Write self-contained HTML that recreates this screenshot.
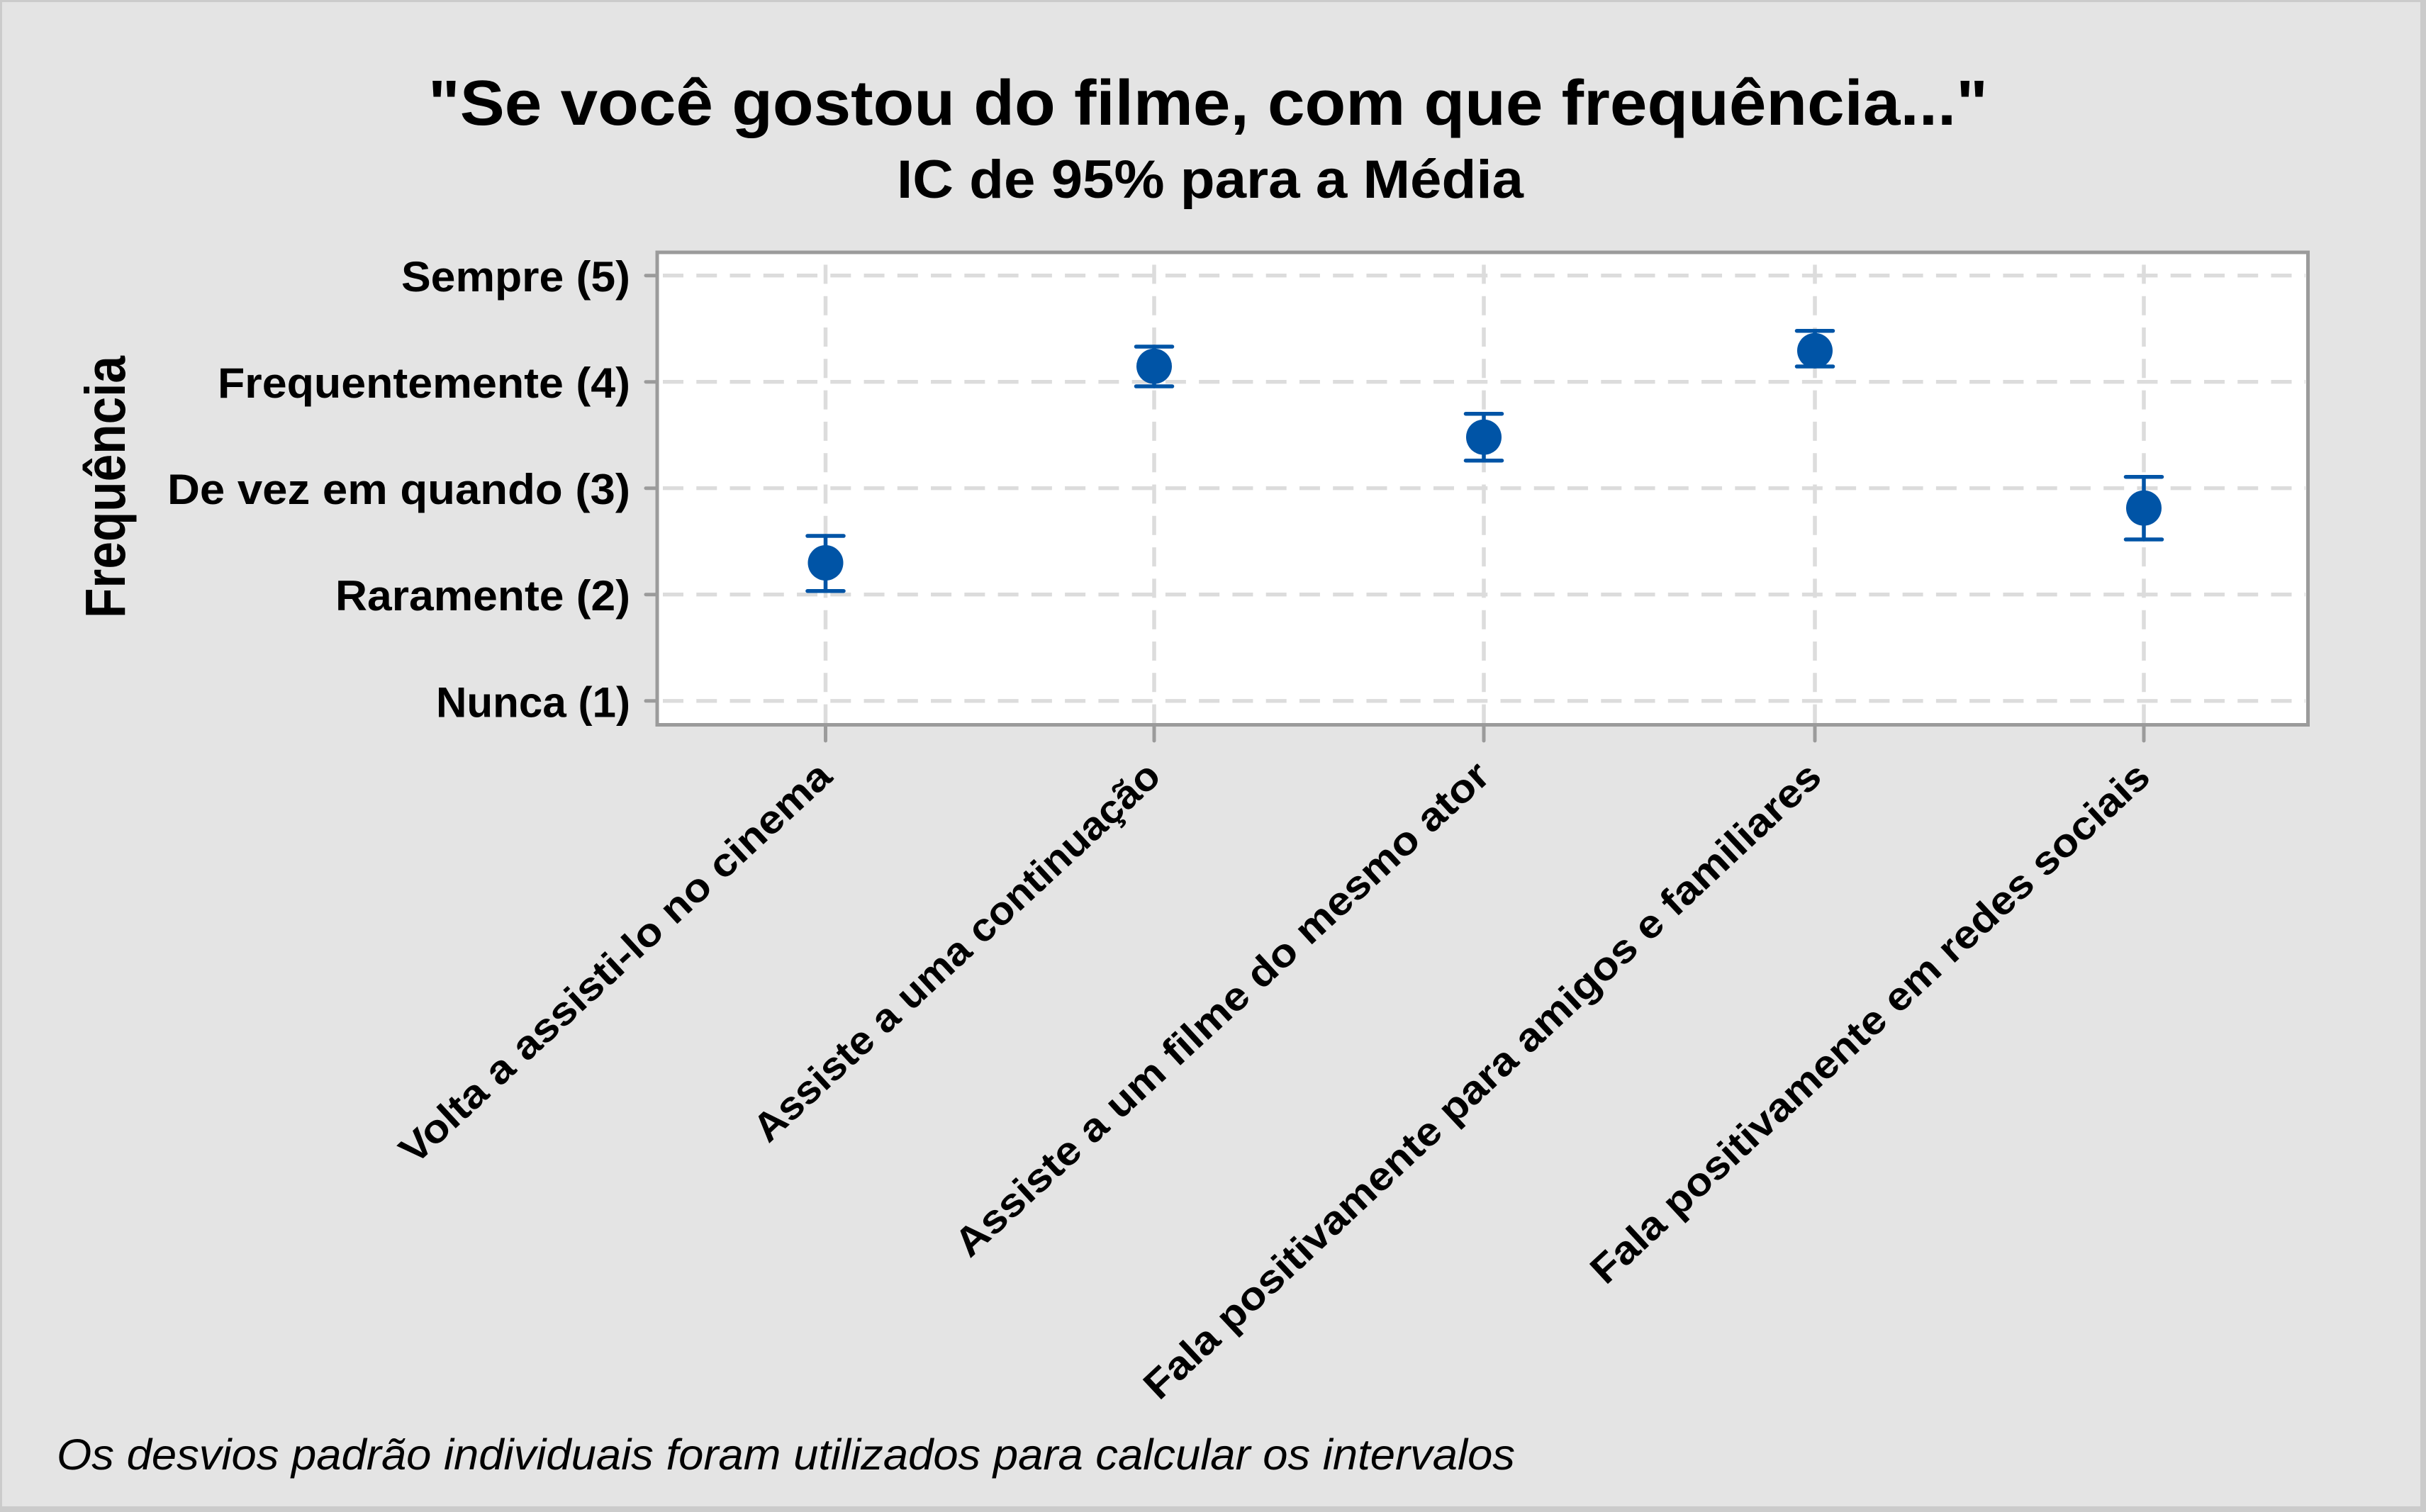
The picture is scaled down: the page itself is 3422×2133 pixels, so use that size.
<!DOCTYPE html>
<html>
<head>
<meta charset="utf-8">
<style>
html,body{margin:0;padding:0;background:#e4e4e4;}
svg{display:block;}
text{font-family:"Liberation Sans", "DejaVu Sans", sans-serif;fill:#000;}
</style>
</head>
<body>
<svg xmlns="http://www.w3.org/2000/svg" width="3422" height="2133" viewBox="0 0 3422 2133">
  <!-- outer frame -->
  <rect x="0" y="0" width="3422" height="2133" fill="#cbcbcb"/>
  <rect x="3" y="3" width="3411" height="2122" fill="#e4e4e4"/>

  <!-- plot area -->
  <rect x="927" y="356" width="2328.5" height="666.5" fill="#ffffff"/>

  <!-- horizontal gridlines -->
  <g stroke="#dcdcdc" stroke-width="5.3" stroke-dasharray="29 18.26" fill="none">
    <line x1="935" y1="388.7" x2="3252" y2="388.7"/>
    <line x1="935" y1="538.7" x2="3252" y2="538.7"/>
    <line x1="935" y1="688.7" x2="3252" y2="688.7"/>
    <line x1="935" y1="838.7" x2="3252" y2="838.7"/>
    <line x1="935" y1="988.8" x2="3252" y2="988.8"/>
  </g>
  <!-- vertical gridlines -->
  <g stroke="#dcdcdc" stroke-width="5.5" stroke-dasharray="27 17.3" fill="none">
    <line x1="1164.5" y1="373.4" x2="1164.5" y2="1020"/>
    <line x1="1628" y1="373.4" x2="1628" y2="1020"/>
    <line x1="2093" y1="373.4" x2="2093" y2="1020"/>
    <line x1="2560" y1="373.4" x2="2560" y2="1020"/>
    <line x1="3024" y1="373.4" x2="3024" y2="1020"/>
  </g>

  <!-- plot border -->
  <rect x="927" y="356" width="2328.5" height="666.5" fill="none" stroke="#9b9b9b" stroke-width="5"/>

  <!-- ticks -->
  <g stroke="#9b9b9b" stroke-width="5" stroke-linecap="round">
    <line x1="911" y1="388.7" x2="927" y2="388.7"/>
    <line x1="911" y1="538.7" x2="927" y2="538.7"/>
    <line x1="911" y1="688.7" x2="927" y2="688.7"/>
    <line x1="911" y1="838.7" x2="927" y2="838.7"/>
    <line x1="911" y1="988.8" x2="927" y2="988.8"/>
    <line x1="1164.5" y1="1023" x2="1164.5" y2="1045"/>
    <line x1="1628" y1="1023" x2="1628" y2="1045"/>
    <line x1="2093" y1="1023" x2="2093" y2="1045"/>
    <line x1="2560" y1="1023" x2="2560" y2="1045"/>
    <line x1="3024" y1="1023" x2="3024" y2="1045"/>
  </g>

  <!-- error bars -->
  <g stroke="#0054a6" stroke-width="5.5" stroke-linecap="round" fill="none">
    <line x1="1164.5" y1="756" x2="1164.5" y2="833.7"/>
    <line x1="1139" y1="756" x2="1190" y2="756"/>
    <line x1="1139" y1="833.7" x2="1190" y2="833.7"/>

    <line x1="1628" y1="489" x2="1628" y2="545"/>
    <line x1="1602.5" y1="489" x2="1653.5" y2="489"/>
    <line x1="1602.5" y1="545" x2="1653.5" y2="545"/>

    <line x1="2093" y1="583.7" x2="2093" y2="649.7"/>
    <line x1="2067.5" y1="583.7" x2="2118.5" y2="583.7"/>
    <line x1="2067.5" y1="649.7" x2="2118.5" y2="649.7"/>

    <line x1="2560" y1="466.7" x2="2560" y2="517"/>
    <line x1="2534.5" y1="466.7" x2="2585.5" y2="466.7"/>
    <line x1="2534.5" y1="517" x2="2585.5" y2="517"/>

    <line x1="3024" y1="672.7" x2="3024" y2="761"/>
    <line x1="2998.5" y1="672.7" x2="3049.5" y2="672.7"/>
    <line x1="2998.5" y1="761" x2="3049.5" y2="761"/>
  </g>
  <g fill="#0054a6">
    <circle cx="1164.5" cy="794" r="25"/>
    <circle cx="1628" cy="516.7" r="25"/>
    <circle cx="2093" cy="616.7" r="25"/>
    <circle cx="2560" cy="494.7" r="25"/>
    <circle cx="3024" cy="716.7" r="25"/>
  </g>

  <!-- title -->
  <text x="1704" y="176" font-size="90" font-weight="bold" text-anchor="middle" textLength="2200" lengthAdjust="spacingAndGlyphs">"Se você gostou do filme, com que frequência..."</text>
  <text x="1707" y="279" font-size="76" font-weight="bold" text-anchor="middle" textLength="884" lengthAdjust="spacingAndGlyphs">IC de 95% para a Média</text>

  <!-- y tick labels -->
  <g font-size="60" font-weight="bold" text-anchor="end">
    <text x="889" y="411.2" textLength="323" lengthAdjust="spacingAndGlyphs">Sempre (5)</text>
    <text x="889" y="561.2" textLength="582" lengthAdjust="spacingAndGlyphs">Frequentemente (4)</text>
    <text x="889" y="711.2" textLength="653" lengthAdjust="spacingAndGlyphs">De vez em quando (3)</text>
    <text x="889" y="861.2" textLength="416" lengthAdjust="spacingAndGlyphs">Raramente (2)</text>
    <text x="889" y="1011.3" textLength="274" lengthAdjust="spacingAndGlyphs">Nunca (1)</text>
  </g>

  <!-- y axis title -->
  <text transform="translate(176,687) rotate(-90)" x="0" y="0" font-size="80" font-weight="bold" text-anchor="middle" textLength="370" lengthAdjust="spacingAndGlyphs">Frequência</text>

  <!-- x tick labels -->
  <g font-size="56" font-weight="bold">
    <text transform="translate(585,1645) rotate(-42.7)" x="0" y="0" textLength="805" lengthAdjust="spacingAndGlyphs">Volta a assisti-lo no cinema</text>
    <text transform="translate(1084,1614) rotate(-42.8)" x="0" y="0" textLength="758" lengthAdjust="spacingAndGlyphs">Assiste a uma continuação</text>
    <text transform="translate(1368,1776) rotate(-42.6)" x="0" y="0" textLength="1001" lengthAdjust="spacingAndGlyphs">Assiste a um filme do mesmo ator</text>
    <text transform="translate(1635,1977) rotate(-43.1)" x="0" y="0" textLength="1284" lengthAdjust="spacingAndGlyphs">Fala positivamente para amigos e familiares</text>
    <text transform="translate(2265,1814) rotate(-42.8)" x="0" y="0" textLength="1051" lengthAdjust="spacingAndGlyphs">Fala positivamente em redes sociais</text>
  </g>

  <!-- footnote -->
  <text x="80" y="2073" font-size="61" font-style="italic" textLength="2057" lengthAdjust="spacingAndGlyphs">Os desvios padrão individuais foram utilizados para calcular os intervalos</text>
</svg>
</body>
</html>
